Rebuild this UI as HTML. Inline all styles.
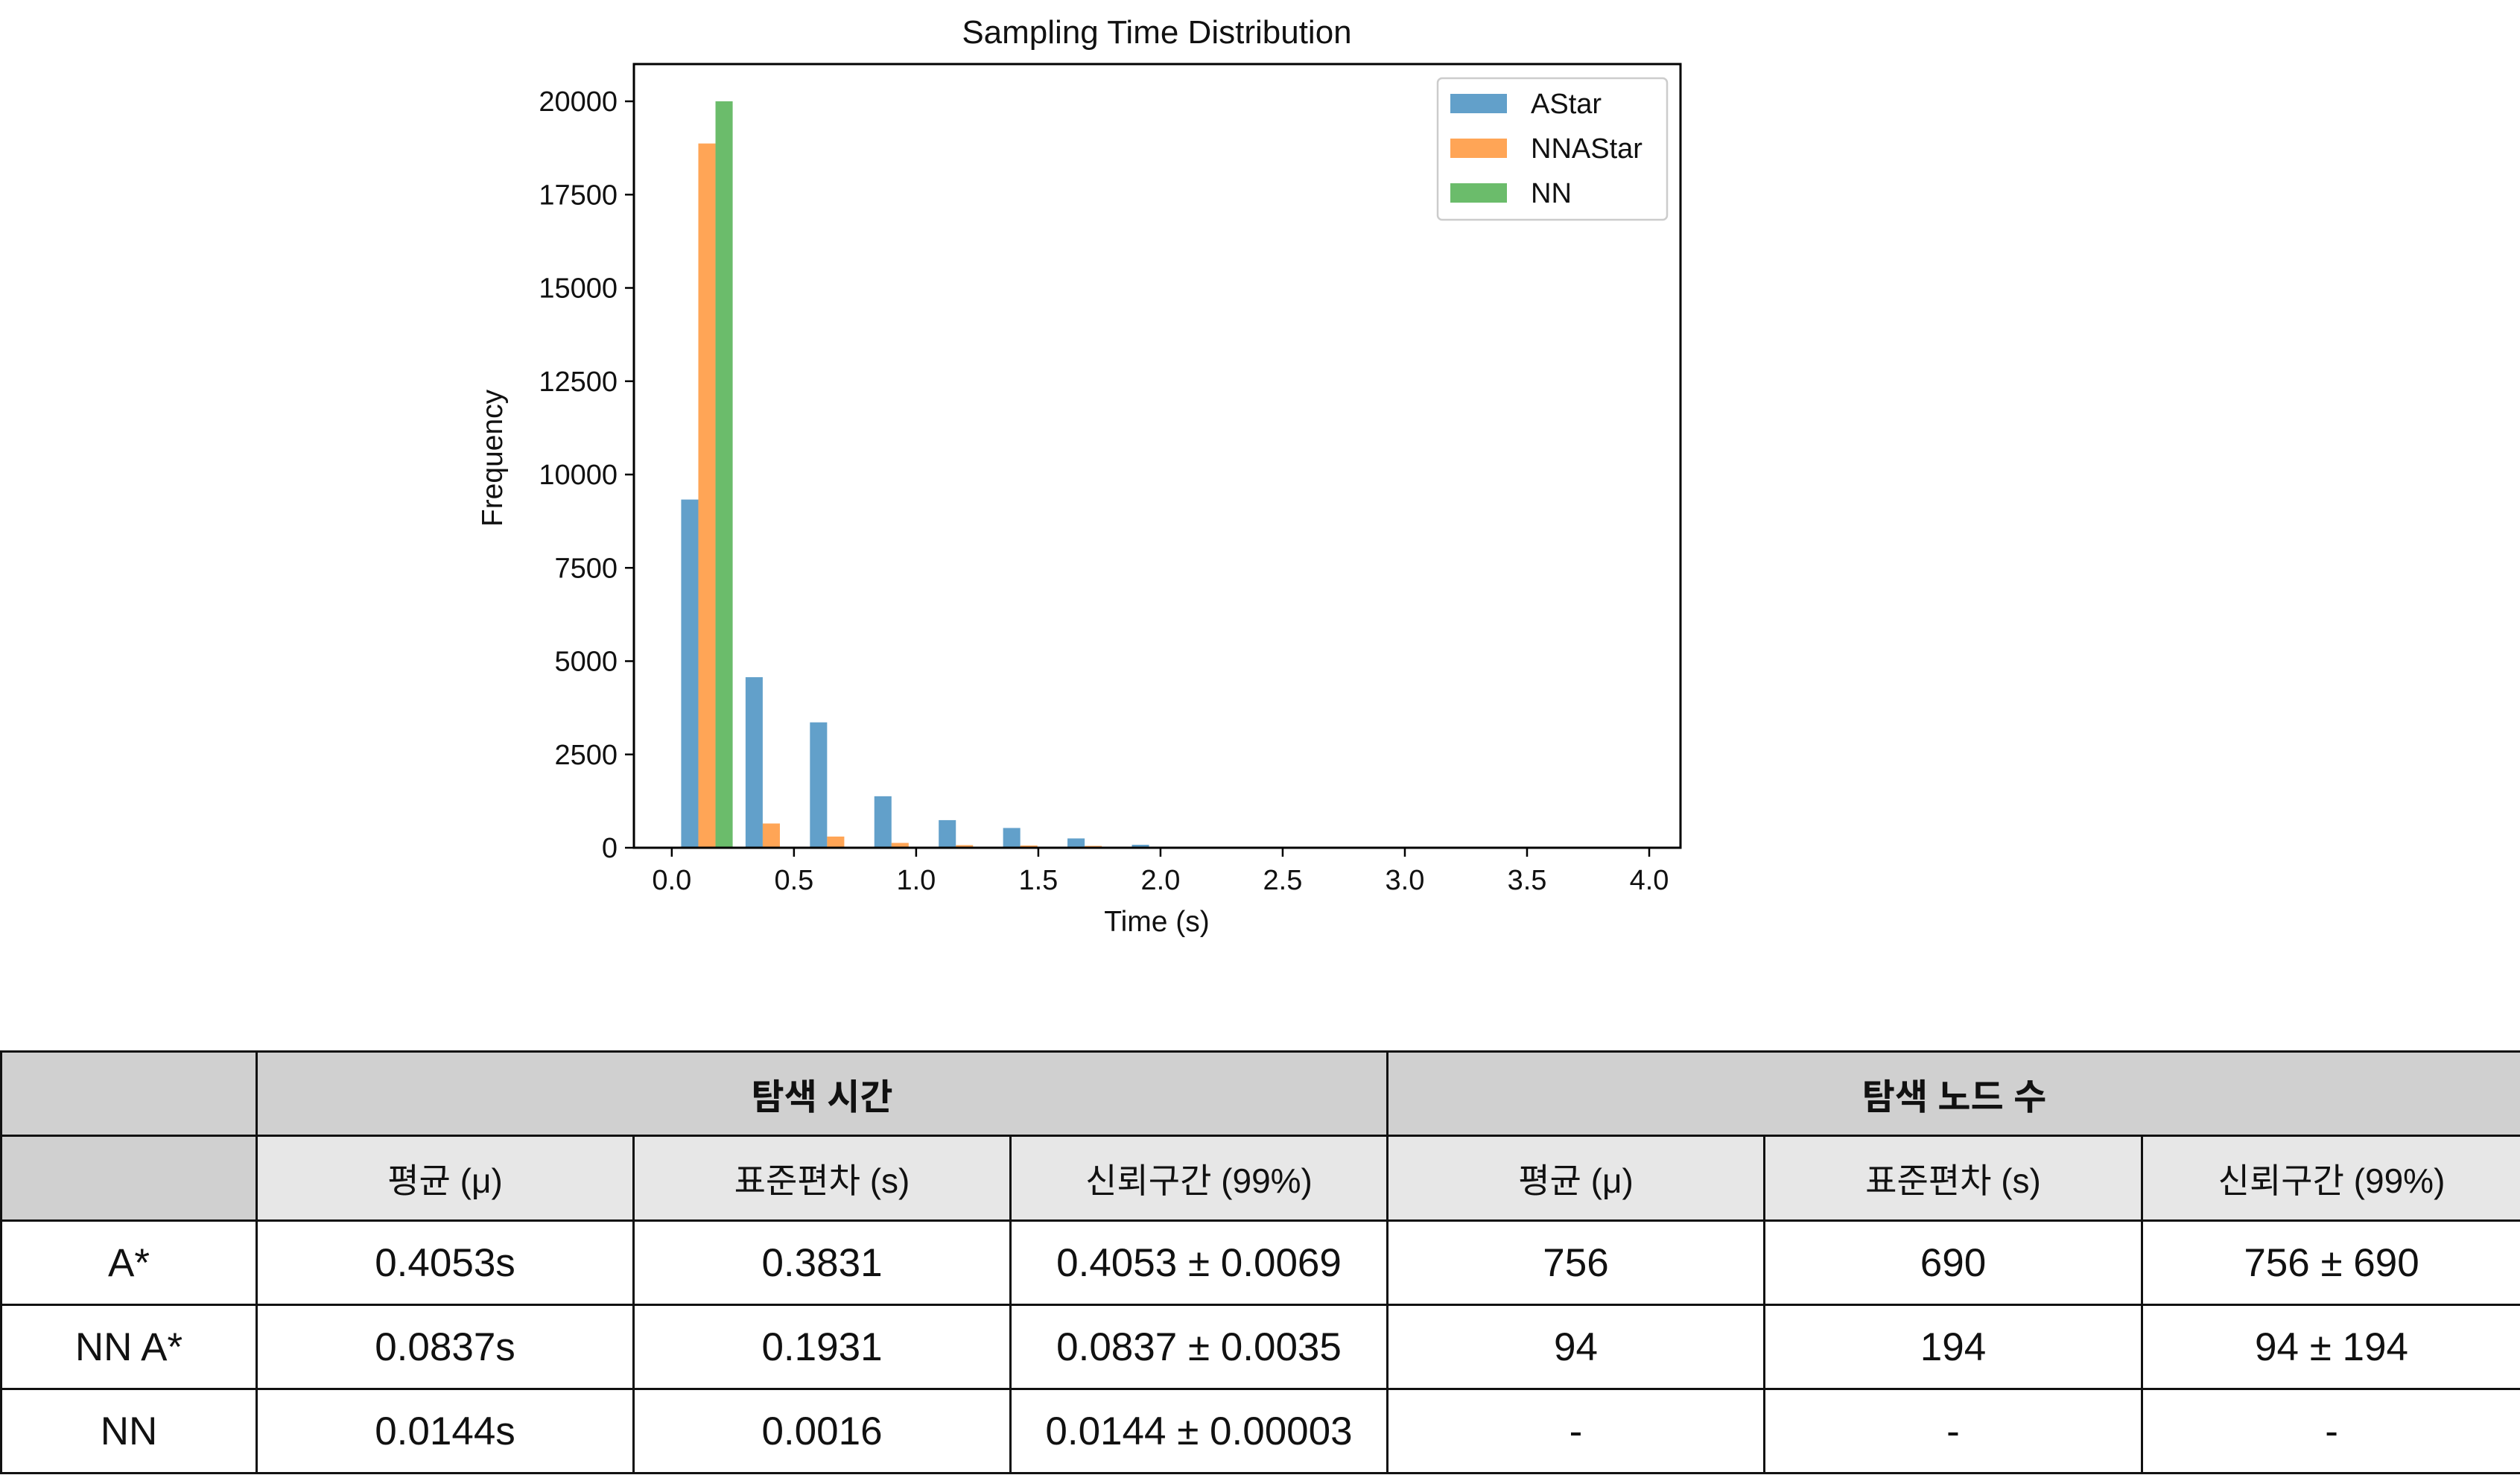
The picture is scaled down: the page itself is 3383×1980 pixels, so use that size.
<!DOCTYPE html>
<html><head><meta charset="utf-8">
<style>
html,body{margin:0;padding:0;background:#fff;width:3383px;height:1980px;overflow:hidden;position:relative;font-family:"Liberation Sans","Noto Sans CJK KR",sans-serif;}
svg{position:absolute;left:0;top:0;}
table{position:absolute;left:0;top:1410px;width:3383px;border-collapse:collapse;table-layout:fixed;font-family:"Liberation Sans","Noto Sans CJK KR",sans-serif;}
td{border:3px solid #111;text-align:center;vertical-align:middle;padding:0;color:#111;}
tr.h1 td{height:110px;background:#d0d0d0;font-weight:bold;font-size:48px;}
tr.h2 td{height:111px;background:#e7e7e7;font-size:46px;}
tr.h2 td.corner{background:#d0d0d0;}
tr.d td{height:110px;font-size:53px;}
</style></head><body>
<svg id="chart" width="3383" height="1400"></svg>
<table>
<colgroup><col style="width:343px"><col style="width:506px"><col style="width:506px"><col style="width:506px"><col style="width:506px"><col style="width:507px"><col style="width:509px"></colgroup>
<tr class="h1"><td></td><td colspan="3">탐색 시간</td><td colspan="3">탐색 노드 수</td></tr>
<tr class="h2"><td class="corner"></td><td>평균 (μ)</td><td>표준편차 (s)</td><td>신뢰구간 (99%)</td><td>평균 (μ)</td><td>표준편차 (s)</td><td>신뢰구간 (99%)</td></tr>
<tr class="d"><td>A*</td><td>0.4053s</td><td>0.3831</td><td>0.4053 ± 0.0069</td><td>756</td><td>690</td><td>756 ± 690</td></tr>
<tr class="d"><td>NN A*</td><td>0.0837s</td><td>0.1931</td><td>0.0837 ± 0.0035</td><td>94</td><td>194</td><td>94 ± 194</td></tr>
<tr class="d"><td>NN</td><td>0.0144s</td><td>0.0016</td><td>0.0144 ± 0.00003</td><td>-</td><td>-</td><td>-</td></tr>
</table>
<script>
const seriesNames = ["AStar","NNAStar","NN"];
const astarCounts = [9330,4570,3360,1380,740,530,250,80,20,10,0,0,0,0,0];
const nnastarCounts = [18870,650,300,130,70,60,50,0,0,0,0,0,0,0,0];
const nnCounts = [20000,0,0,0,0,0,0,0,0,0,0,0,0,0,0];
const binStart = 0.012;
const binWidth = 0.2635;
const xTicks = [0,0.5,1,1.5,2,2.5,3,3.5,4];
const yTicks = [0,2500,5000,7500,10000,12500,15000,17500,20000];

const colors = ["rgba(31,119,180,0.7)","rgba(255,127,14,0.7)","rgba(44,160,44,0.7)"];
const L=851,R=2256,T=86,B=1138;
const xmin=-0.155,xmax=4.128;
const X=v=>L+(v-xmin)/(xmax-xmin)*(R-L);
const Y=v=>1138-v*(1138-136)/20000;
const NS="http://www.w3.org/2000/svg";
const svg=document.getElementById('chart');
function mk(t,a,txt){const e=document.createElementNS(NS,t);for(const k in a)e.setAttribute(k,a[k]);if(txt!==undefined)e.textContent=txt;svg.appendChild(e);return e;}
const font='"Liberation Sans","Noto Sans CJK KR",sans-serif';
const all=[astarCounts,nnastarCounts,nnCounts];
const bw=binWidth*0.8/3;
all.forEach((arr,s)=>{arr.forEach((v,i)=>{if(v<=0)return;
 const x0=binStart+i*binWidth+binWidth*0.1+s*bw;
 const r=mk('rect',{x:X(x0),y:Y(v),width:X(x0+bw)-X(x0),height:Y(0)-Y(v),fill:colors[s]});
 
 
});});
const frame=mk('rect',{x:L,y:T,width:R-L,height:B-T,fill:'none',stroke:'#000','stroke-width':3});


xTicks.forEach(v=>{const x=X(v);mk('line',{x1:x,x2:x,y1:B,y2:B+12,stroke:'#000','stroke-width':2.5});
 const t=mk('text',{x:x,y:B+56,'text-anchor':'middle','font-size':38,'font-family':font,fill:'#111'},v.toFixed(1));
 
 });
yTicks.forEach(v=>{const y=Y(v);mk('line',{x1:L-12,x2:L,y1:y,y2:y,stroke:'#000','stroke-width':2.5});
 const t=mk('text',{x:L-22,y:y+13,'text-anchor':'end','font-size':38,'font-family':font,fill:'#111'},String(v));
 
 });
const title=mk('text',{x:1553,y:58,'text-anchor':'middle','font-size':44,'font-family':font,fill:'#111'},'Sampling Time Distribution');


const xl=mk('text',{x:1553,y:1250,'text-anchor':'middle','font-size':39,'font-family':font,fill:'#111'},'Time (s)');


const yl=mk('text',{x:0,y:0,'text-anchor':'middle','font-size':39,'font-family':font,fill:'#111',transform:'translate(674,615) rotate(-90)'},'Frequency');


const lg=mk('rect',{x:1930,y:105,width:308,height:190,rx:6,fill:'#fff',stroke:'#ccc','stroke-width':2.5});


seriesNames.forEach((n,i)=>{const cy=139+i*60;
 const p=mk('rect',{x:1947,y:cy-13,width:76,height:26,fill:colors[i]});
 
 
 const t=mk('text',{x:2055,y:cy+13,'font-size':38,'font-family':font,fill:'#111'},n);
 
 });
</script>
</body></html>
